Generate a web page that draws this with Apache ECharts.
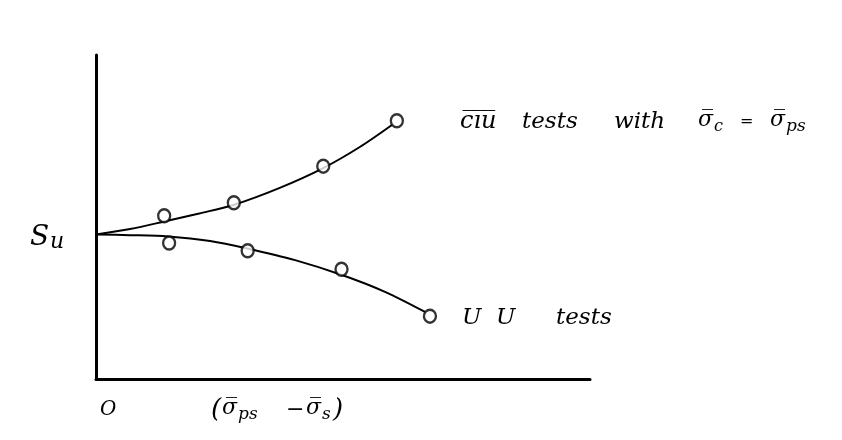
<!DOCTYPE html>
<html>
<head>
<meta charset="utf-8">
<script src="https://cdn.jsdelivr.net/npm/echarts@6/dist/echarts.min.js"></script>
<style>
  html, body { margin: 0; padding: 0; background: #fff; }
  #chart { width: 842px; height: 440px; }
</style>
</head>
<body>
<div id="chart"></div>
<script>
// Undrained strength Su against (σps − σs): CIU tests rise, UU tests fall.
const ciuCurveX = [0, 6.9, 13.8, 20.9, 27.8, 37.2, 46.0, 53.4, 59.9];
const ciuCurveY = [44.6, 46.3, 48.6, 51.1, 53.7, 59.0, 65.1, 71.6, 78.4];
const uuCurveX = [0, 6.9, 14.6, 23.1, 30.6, 40.3, 49.8, 58.5, 66.6];
const uuCurveY = [44.6, 44.4, 44.0, 42.6, 40.3, 36.7, 32.1, 26.9, 20.7];

const ciuPointX = [13.8, 27.9, 46.0, 60.9];
const ciuPointY = [50.4, 54.4, 65.7, 79.7];
const uuPointX = [14.8, 30.7, 49.7, 67.6];
const uuPointY = [42.0, 39.6, 33.9, 19.4];

const pairs = (xs, ys) => xs.map((x, i) => [x, ys[i]]);

const FONT = '"DejaVu Serif"';
const ink = '#000';

const chart = echarts.init(document.getElementById('chart'), null, { renderer: 'canvas' });

const lineSeries = (data) => ({
  type: 'line', data, smooth: 0.3, showSymbol: false, symbol: 'none',
  lineStyle: { color: ink, width: 2 }, silent: true, z: 2
});
const pointSeries = (data) => ({
  type: 'scatter', data, symbol: 'circle', symbolSize: [12, 13],
  itemStyle: { color: '#fff', borderColor: ink, borderWidth: 2.4 }, z: 3
});

// one word of annotation, placed by its left edge and vertical centre
const word = (x, y, text, size) => ({
  type: 'text', x, y, z: 10,
  style: { text, font: `italic ${size || 22}px ${FONT}`, fill: ink, align: 'left', verticalAlign: 'middle' }
});

chart.setOption({
  animation: false,
  backgroundColor: '#fff',
  grid: { left: 96, top: 55, right: 252, bottom: 61, containLabel: false },
  xAxis: {
    type: 'value', min: 0, max: 100,
    axisLine: { lineStyle: { color: ink, width: 3 } },
    axisTick: { show: false }, axisLabel: { show: false }, splitLine: { show: false }
  },
  yAxis: {
    type: 'value', min: 0, max: 100,
    axisLine: { show: true, lineStyle: { color: ink, width: 3 } },
    axisTick: { show: false }, axisLabel: { show: false }, splitLine: { show: false }
  },
  series: [
    lineSeries(pairs(ciuCurveX, ciuCurveY)),
    lineSeries(pairs(uuCurveX, uuCurveY)),
    pointSeries(pairs(ciuPointX, ciuPointY)),
    pointSeries(pairs(uuPointX, uuPointY))
  ],
  graphic: [
    // Su on the vertical axis
    word(30, 238, 'S', 28),
    word(50, 242, 'u', 22),
    // origin and horizontal axis quantity
    word(100, 410, 'O', 20),
    word(211, 410, '(', 26),
    word(222, 408, 'σ̅', 22),
    word(238, 415, 'ps', 17),
    word(286, 410, '−', 22),
    word(306, 408, 'σ̅', 22),
    word(322, 415, 's', 17),
    word(333, 410, ')', 26),
    // CIU curve annotation
    word(460, 122, 'c̅i̅u̅', 24),
    word(522, 122, 'tests', 23),
    word(614, 122, 'with', 23),
    word(698, 120, 'σ̅', 22),
    word(714, 127, 'c', 16),
    word(740, 122, '=', 16),
    word(770, 120, 'σ̅', 22),
    word(786, 127, 'ps', 17),
    // UU curve annotation
    word(462, 318, 'U  U', 23),
    word(556, 318, 'tests', 23)
  ]
});
</script>
</body>
</html>
